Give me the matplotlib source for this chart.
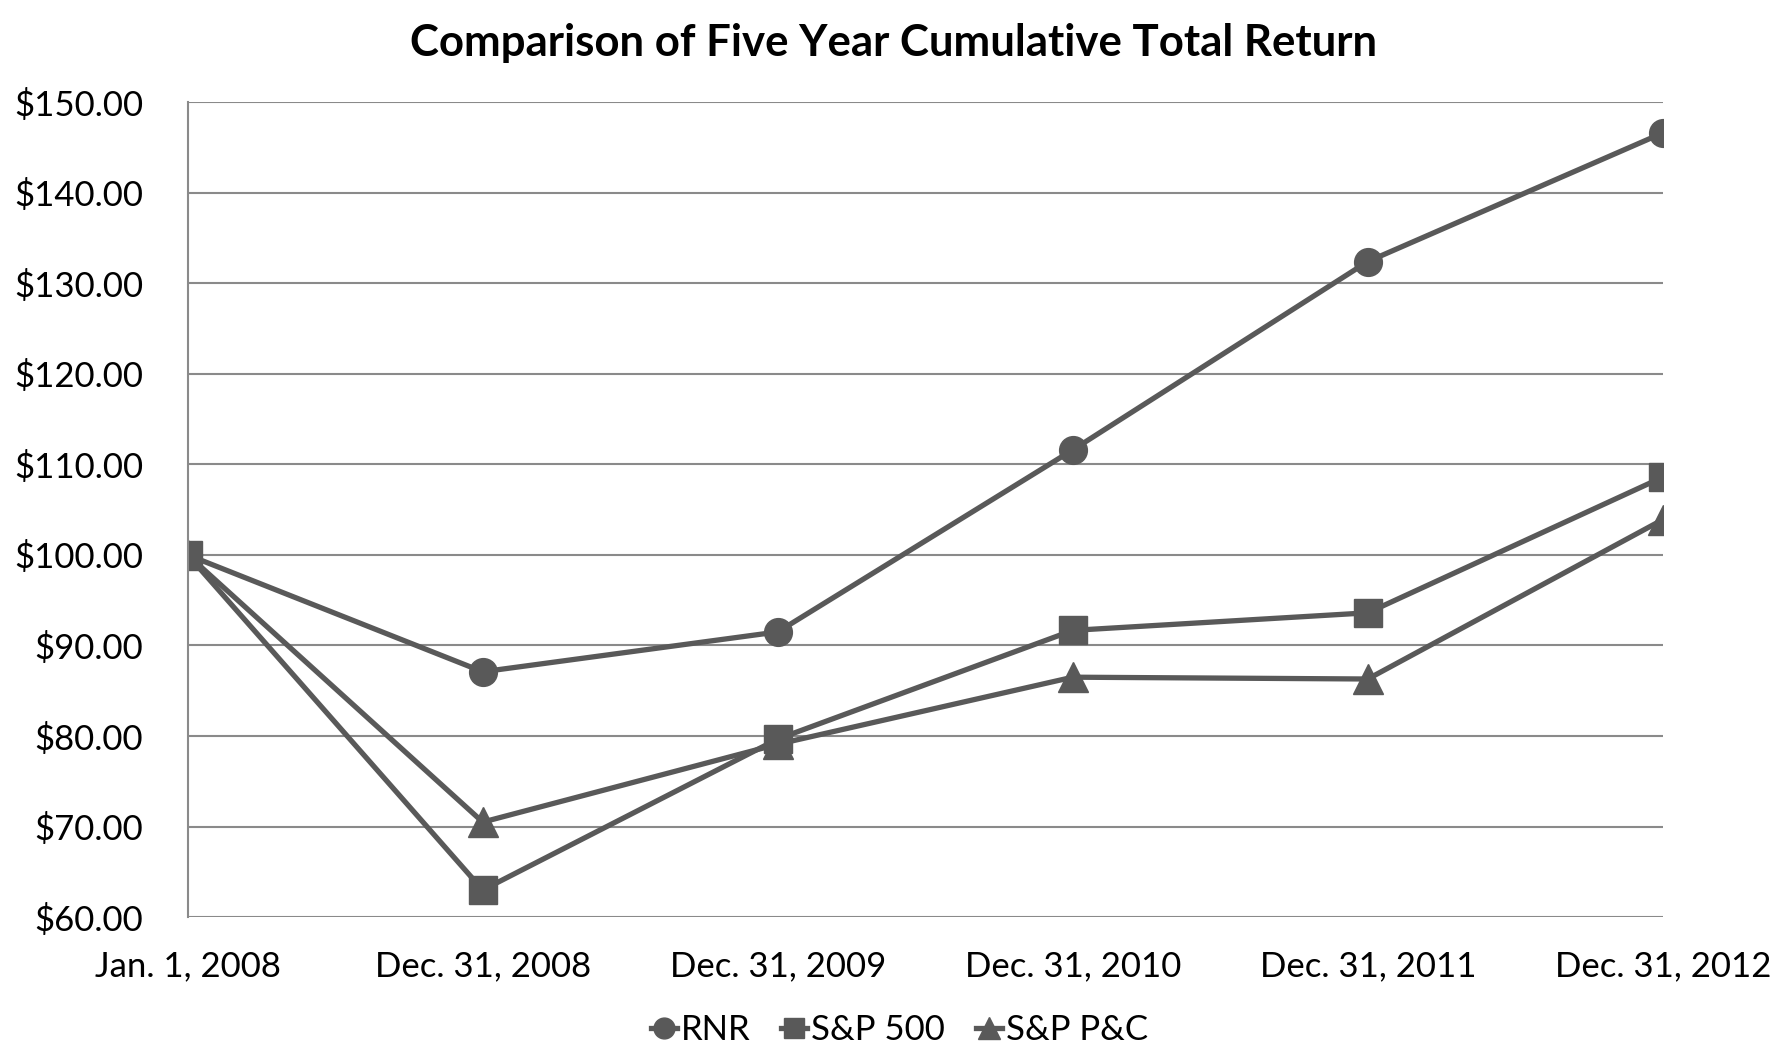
import matplotlib.pyplot as plt

# values
dates = ["Jan. 1, 2008", "Dec. 31, 2008", "Dec. 31, 2009",
         "Dec. 31, 2010", "Dec. 31, 2011", "Dec. 31, 2012"]
rnr = [100.00, 87.1, 91.5, 111.6, 132.4, 146.6]
sp500 = [100.00, 63.0, 79.67, 91.67, 93.61, 108.59]
sp_pc = [100.00, 70.5, 79.1, 86.5, 86.3, 103.9]
y_ticks = [60, 70, 80, 90, 100, 110, 120, 130, 140, 150]

plt.rcParams['font.family'] = ['Lato', 'DejaVu Sans']
line_color = "#595959"
grid_color = "#8a8a8a"

fig = plt.figure(figsize=(17.88, 10.64), dpi=100)
ax = fig.add_axes([0.105, 0.138, 0.825, 0.766])

x = list(range(len(dates)))
ax.plot(x, rnr, color=line_color, lw=3.8, marker="o", ms=20, label="RNR")
ax.plot(x, sp500, color=line_color, lw=3.8, marker="s", ms=20, label="S&P 500")
ax.plot(x, sp_pc, color=line_color, lw=3.8, marker="^", ms=21, label="S&P P&C")

ax.set_xlim(0, 5)
ax.set_ylim(60, 150)
ax.set_yticks(y_ticks)
ax.set_yticklabels([f"${v:.2f}" for v in y_ticks])
ax.set_xticks(x)
ax.set_xticklabels(dates)
ax.tick_params(axis="both", length=0, labelsize=25)
ax.tick_params(axis="y", pad=32)
ax.tick_params(axis="x", pad=24)
ax.set_axisbelow(True)
ax.grid(axis="y", color=grid_color, lw=1.5)
for side in ["top", "right", "bottom"]:
    ax.spines[side].set_visible(False)
ax.spines["left"].set_color(grid_color)
ax.spines["left"].set_linewidth(1.5)

fig.suptitle("Comparison of Five Year Cumulative Total Return",
             fontsize=31.5, fontweight="bold", y=0.978)
fig.legend(loc="center", bbox_to_anchor=(0.503, 0.032), ncol=3, frameon=False,
           fontsize=25, handlelength=0.75, handletextpad=0.1, columnspacing=0.9,
           markerscale=0.75)

fig.savefig("out.png", dpi=100)
